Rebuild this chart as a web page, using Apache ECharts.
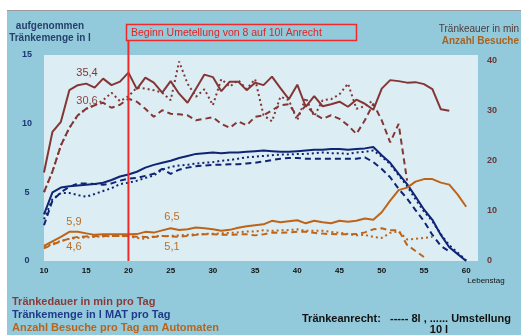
<!DOCTYPE html>
<html>
<head>
<meta charset="utf-8">
<script src="https://cdn.jsdelivr.net/npm/echarts@6/dist/echarts.min.js"></script>
<style>
  html, body { margin: 0; padding: 0; background: #fff; }
  #chart { width: 521px; height: 335px; }
</style>
</head>
<body>
<div id="chart"></div>
<script>
// Lebenstag 10..60
const days = [10, 11, 12, 13, 14, 15, 16, 17, 18, 19, 20, 21, 22, 23, 24, 25, 26, 27, 28, 29,
  30, 31, 32, 33, 34, 35, 36, 37, 38, 39, 40, 41, 42, 43, 44, 45, 46, 47, 48, 49,
  50, 51, 52, 53, 54, 55, 56, 57, 58, 59, 60];

// Tränkedauer in min (rechte Achse)
const dauerSolid = [17.6, 25.7, 27.7, 34, 35, 35.3, 34.5, 36.3, 35, 35.7, 37.5, 34.2, 36.5, 35.5, 33.5, 35.8, 33.3, 31.5, 34.3, 37.1,
  36.6, 33.8, 35.7, 35.7, 34, 35.5, 35, 36.7, 34.4, 32.2, 35.1, 30.7, 32.8, 30.8, 31.2, 31.7, 30.7, 32.1, 31.3, 30.1,
  34.3, 36, 35.8, 35.5, 35.6, 35.2, 34.2, 30.2, 29.9, null, null];
const dauerDash = [13.7, 17.8, 23, 26.5, 29, 30.3, 31, 31.5, 30.5, 31.1, 32.3, 31.7, 30.3, 28.7, 30, 29.3, 29.2, 29, 28, 28.3,
  28.6, 27.3, 26.5, 27.8, 27, 28.7, 29, 30, 31, 31.2, 28.8, 31, 29.3, 28.3, 29, 28.3, 27, 25.3, 28, 31.3,
  28, 23.6, 27.3, 16, null, null, null, null, null, null, null];
const dauerDot = [13.7, 17.8, 23, 26.5, 29, 30.3, 31, 32, 33.5, 31.8, 32.8, 34.5, 34.3, 34, 33.5, 32, 39.7, 35.3, 32.7, 34.2,
  31, 36.2, 34.7, 36, 34.2, 36.2, 29, 27.8, 32.7, 32, 28, 32.5, 28.8, 32, 32.2, 33.2, 35.3, 30.3, 30.8, 32,
  null, null, null, null, null, null, null, null, null, null, null];

// Tränkemenge in l (linke Achse)
const mengeSolid = [3.4, 5.0, 5.35, 5.45, 5.5, 5.55, 5.6, 5.7, 5.9, 6.15, 6.3, 6.5, 6.8, 7.0, 7.15, 7.3, 7.5, 7.65, 7.8, 7.85,
  7.9, 7.85, 7.9, 7.9, 7.95, 8.0, 8.05, 8.0, 7.95, 7.95, 8.0, 8.05, 8.1, 8.1, 8.15, 8.15, 8.1, 8.15, 8.2, 8.3,
  7.7, 7.15, 6.35, 5.6, 4.7, 3.75, 3.0, 1.9, 1.0, 0.5, 0];
const mengeDash = [2.6, 4.4, 5.0, 5.4, 5.65, 5.65, 5.6, 5.55, 5.65, 5.85, 6.0, 6.05, 6.2, 6.35, 6.7, 6.35, 6.65, 6.8, 6.9, 6.95,
  7.0, 7.0, 7.05, 7.05, 7.1, 7.15, 7.25, 7.35, 7.45, 7.5, 7.5, 7.45, 7.45, 7.45, 7.45, 7.45, 7.45, 7.45, 7.55, 7.2,
  6.7, 6.1, 5.25, 4.55, 3.7, 2.9, 1.9, 1.1, 0.7, null, null];
const mengeDot = [3.05, 4.5, 4.95, 4.95, 4.8, 4.68, 4.88, 5.1, 5.3, 5.6, 5.7, 5.85, 6.05, 6.22, 6.65, 6.85, 6.95, 7.0, 7.1, 7.15,
  7.2, 7.3, 7.35, 7.45, 7.55, 7.6, 7.65, 7.7, 7.75, 7.75, 7.8, 7.8, 7.85, 7.9, 7.85, 7.85, 7.8, 7.9, 7.95, 8.05,
  7.6, 7.05, 6.25, 5.45, 4.5, 3.6, 2.9, 1.95, 1.15, 0.6, 0.05];

// Anzahl Besuche (rechte Achse)
const besuchSolid = [3.0, 3.9, 4.8, 5.8, 5.8, 5.5, 5.2, 5.3, 5.3, 5.3, 5.3, 5.35, 5.8, 5.65, 6.1, 6.5, 6.15, 6.3, 6.65, 6.5,
  6.3, 6.0, 6.2, 6.6, 6.9, 7.1, 7.3, 8.0, 7.7, 7.9, 8.1, 7.5, 8.0, 7.7, 7.5, 8.0, 7.8, 8.0, 8.45, 8.2,
  9.7, 12, 14.1, 14.6, 15.8, 16.3, 16.3, 15.6, 15.2, 13.2, 10.8];
const besuchDash = [2.5, 3.3, 3.9, 4.5, 4.8, 4.9, 4.95, 5.0, 5.0, 5.0, 5.0, 4.85, 4.8, 4.8, 5.0, 4.9, 4.8, 5.0, 5.2, 5.3,
  5.3, 5.25, 5.2, 5.3, 5.3, 5.1, 5.3, 5.65, 5.6, 5.7, 5.8, 5.8, 5.6, 5.45, 5.35, 5.3, 5.3, 5.35, 5.7, 6.3,
  6.5, 6.1, 6.1, 3.2, 2.0, 0.8, null, null, null, null, null];
const besuchDot = [2.7, 3.4, 4.0, 4.4, 4.6, 4.7, 4.8, 4.9, 4.95, 5.0, 4.9, 4.6, 4.4, 4.9, 5.0, 5.0, 5.1, 5.2, 5.3, 5.4,
  5.4, 5.5, 5.6, 5.7, 5.85, 5.9, 6.1, 6.0, 6.1, 6.15, 6.3, 6.0, 6.0, 6.0, 5.8, 5.6, 5.4, 5.1, 5.2, 4.8,
  4.6, 5.6, 5.9, 4.3, 4.4, 4.6, 4.8, null, null, null, null];

const umstellungTag = 20;

const RED = '#843535';
const NAVY = '#0f2474';
const ORANGE = '#bd6418';
const FONT = '"Liberation Sans", Arial, sans-serif';

const DASH = [6, 4];
const DOT = [2, 3];

function pairs(arr) {
  return days.map((d, i) => [d, arr[i]]);
}

function line(name, arr, color, type, yIdx) {
  return {
    name: name,
    type: 'line',
    yAxisIndex: yIdx,
    data: pairs(arr),
    showSymbol: false,
    connectNulls: false,
    animation: false,
    lineStyle: { color: color, width: 2, type: type },
    itemStyle: { color: color },
  };
}

const chart = echarts.init(document.getElementById('chart'));

chart.setOption({
  backgroundColor: '#93cadb',
  animation: false,
  grid: {
    left: 44,
    right: 43,
    top: 55,
    bottom: 74,
    show: true,
    backgroundColor: '#dcedf3',
    borderWidth: 0,
  },
  xAxis: {
    type: 'value',
    min: 10,
    max: 61.4,
    interval: 5,
    splitLine: { show: false },
    axisLine: { show: false },
    axisTick: { show: false },
    axisLabel: {
      color: '#111',
      fontFamily: FONT,
      fontWeight: 'bold',
      fontSize: 8,
      margin: 6,
      formatter: v => (v % 5 === 0 ? String(v) : ''),
    },
  },
  yAxis: [
    {
      type: 'value',
      min: 0,
      max: 15,
      interval: 5,
      splitLine: { show: false },
      axisLine: { show: false },
      axisTick: { show: false },
      axisLabel: {
        color: '#1c3575',
        fontFamily: FONT,
        fontWeight: 'bold',
        fontSize: 9,
        margin: 17,
        align: 'center',
      },
    },
    {
      type: 'value',
      min: 0,
      max: 41,
      interval: 10,
      position: 'right',
      splitLine: { show: false },
      axisLine: { show: false },
      axisTick: { show: false },
      axisLabel: {
        color: '#6e3434',
        fontFamily: FONT,
        fontWeight: 'bold',
        fontSize: 9,
        margin: 9,
        formatter: v => (v % 10 === 0 ? String(v) : ''),
      },
    },
  ],
  series: [
    line('Tränkedauer 8l', dauerDash, RED, DASH, 1),
    line('Tränkedauer Umstellung', dauerDot, RED, DOT, 1),
    line('Tränkedauer 10l', dauerSolid, RED, 'solid', 1),
    line('Tränkemenge 8l', mengeDash, NAVY, DASH, 0),
    line('Tränkemenge Umstellung', mengeDot, NAVY, DOT, 0),
    line('Tränkemenge 10l', mengeSolid, NAVY, 'solid', 0),
    line('Besuche 8l', besuchDash, ORANGE, DASH, 1),
    line('Besuche Umstellung', besuchDot, ORANGE, DOT, 1),
    line('Besuche 10l', besuchSolid, ORANGE, 'solid', 1),
  ],
});

// Umstellungslinie: von der Beschriftungsbox bis zur x-Achse
const xLine = chart.convertToPixel({ xAxisIndex: 0 }, umstellungTag);
const yBottom = chart.convertToPixel({ yAxisIndex: 0 }, 0);

function txt(x, y, text, color, size, weight, align) {
  return {
    type: 'text',
    x: x,
    y: y,
    silent: true,
    style: {
      text: text,
      fill: color,
      font: (weight || 'normal') + ' ' + size + 'px ' + FONT,
      align: align || 'left',
      verticalAlign: 'middle',
    },
  };
}

chart.setOption({
  graphic: [
    // weisser Rand oben/links
    { type: 'rect', shape: { x: 0, y: 0, width: 521, height: 10 }, style: { fill: '#fff' }, silent: true },
    { type: 'rect', shape: { x: 0, y: 0, width: 7, height: 335 }, style: { fill: '#fff' }, silent: true },
    { type: 'line', shape: { x1: 7, y1: 10.5, x2: 521, y2: 10.5 }, style: { stroke: '#9a9a9a', lineWidth: 1 }, silent: true },

    // Achsentitel
    txt(50, 26, 'aufgenommen', '#26406c', 10, 'bold', 'center'),
    txt(50, 38, 'Tränkemenge in l', '#26406c', 10, 'bold', 'center'),
    txt(519, 29, 'Tränkeauer in min', '#4d3a3a', 10, 'normal', 'right'),
    txt(519, 41, 'Anzahl Besuche', '#a8621f', 10, 'bold', 'right'),
    txt(486, 281, 'Lebenstag', '#111', 8, 'normal', 'center'),

    // Umstellung
    { type: 'line', shape: { x1: xLine, y1: 40, x2: xLine, y2: yBottom }, style: { stroke: '#ee2a2a', lineWidth: 2 }, silent: true, z: 50 },
    { type: 'rect', shape: { x: 126.5, y: 24.5, width: 230, height: 16 }, style: { fill: 'none', stroke: '#ee2a2a', lineWidth: 1.5 }, silent: true, z: 50 },
    txt(131, 33, 'Beginn Umetellung von 8 auf 10l Anrecht', '#e81e1e', 10.5, 'normal', 'left'),

    // Mittelwerte
    txt(87, 73, '35,4', RED, 11, 'normal', 'center'),
    txt(87, 101, '30,6', '#8a4545', 11, 'normal', 'center'),
    txt(74, 222, '5,9', '#b8702a', 11, 'normal', 'center'),
    txt(74, 247, '4,6', '#b8702a', 11, 'normal', 'center'),
    txt(172, 217, '6,5', '#b8702a', 11, 'normal', 'center'),
    txt(172, 247, '5,1', '#b8702a', 11, 'normal', 'center'),

    // Legende
    txt(12, 302, 'Tränkedauer in min pro Tag', '#8b3a3a', 11, 'bold', 'left'),
    txt(12, 315, 'Tränkemenge in l MAT pro Tag', '#1f3a8a', 11, 'bold', 'left'),
    txt(12, 328, 'Anzahl Besuche pro Tag am Automaten', '#b5651d', 11, 'bold', 'left'),
    txt(302, 319, 'Tränkeanrecht:   ----- 8l , ...... Umstellung', '#111', 11, 'bold', 'left'),
    txt(439, 330, '10 l', '#111', 11, 'bold', 'center'),
  ],
});
</script>
</body>
</html>
